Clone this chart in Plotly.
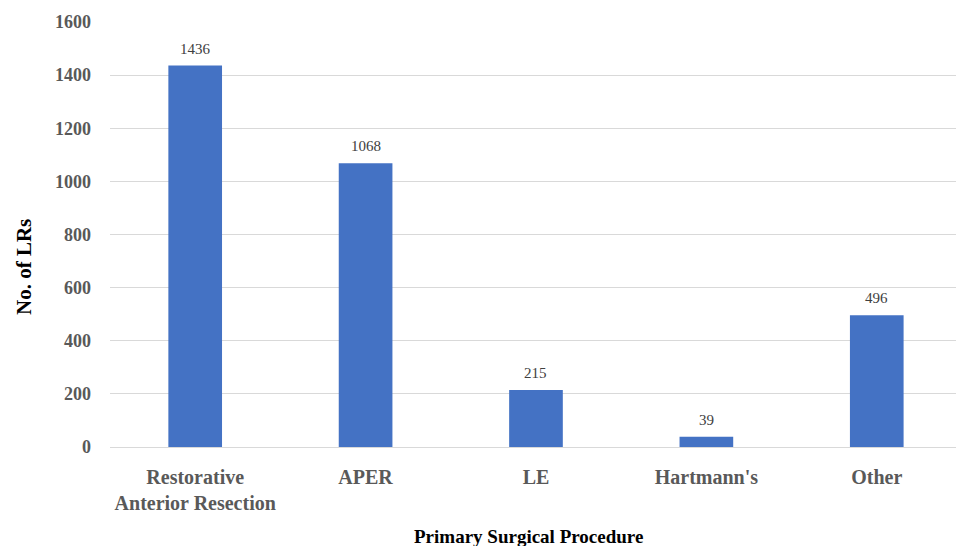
import plotly.graph_objects as go

# Local recurrences by primary surgical procedure
categories = ["Restorative<br>Anterior Resection", "APER", "LE", "Hartmann's", "Other"]
counts = [1436, 1068, 215, 39, 496]
y_ticks = [0, 200, 400, 600, 800, 1000, 1200, 1400, 1600]

SERIF = "Liberation Serif, DejaVu Serif, serif"
BAR_COLOR = "#4472C4"

fig = go.Figure(
    go.Bar(
        x=categories,
        y=counts,
        marker=dict(color=BAR_COLOR, line=dict(width=0)),
        width=0.315,
    )
)

# Value labels above each bar
for cat, v in zip(categories, counts):
    fig.add_annotation(
        x=cat, y=v, text=str(v),
        xref="x", yref="y",
        xanchor="center", yanchor="bottom",
        yshift=7,
        showarrow=False,
        font=dict(family=SERIF, size=15, color="#404040"),
    )

fig.update_layout(
    width=956,
    height=546,
    margin=dict(l=110, r=0, t=22, b=99),
    paper_bgcolor="white",
    plot_bgcolor="white",
    showlegend=False,
    font=dict(family=SERIF),
    xaxis=dict(
        range=[-0.5, 4.465],
        showgrid=False,
        showline=False,
        zeroline=False,
        ticks="",
        tickfont=dict(family=SERIF, size=20, color="#595959", weight="bold"),
        ticklabelstandoff=16,
    ),
    yaxis=dict(
        range=[0, 1600],
        tickvals=y_ticks,
        showgrid=True,
        gridcolor="#D9D9D9",
        gridwidth=1,
        zeroline=True,
        zerolinecolor="#D9D9D9",
        zerolinewidth=1,
        showline=False,
        ticks="",
        tickfont=dict(family=SERIF, size=18, color="#595959", weight="bold"),
        ticklabelstandoff=18,
    ),
)

fig.add_annotation(
    text="<b>Primary Surgical Procedure</b>",
    xref="paper", yref="paper",
    x=(528 - 110) / 846, y=-(536 - 447) / 425,
    xanchor="center", yanchor="middle",
    showarrow=False,
    font=dict(family=SERIF, size=19, color="#000000"),
)
fig.add_annotation(
    text="<b>No. of LRs</b>",
    xref="paper", yref="paper",
    x=-(110 - 24) / 846, y=(447 - 267) / 425,
    xanchor="center", yanchor="middle",
    textangle=-90,
    showarrow=False,
    font=dict(family=SERIF, size=21, color="#000000"),
)

fig.write_html("out.html")
